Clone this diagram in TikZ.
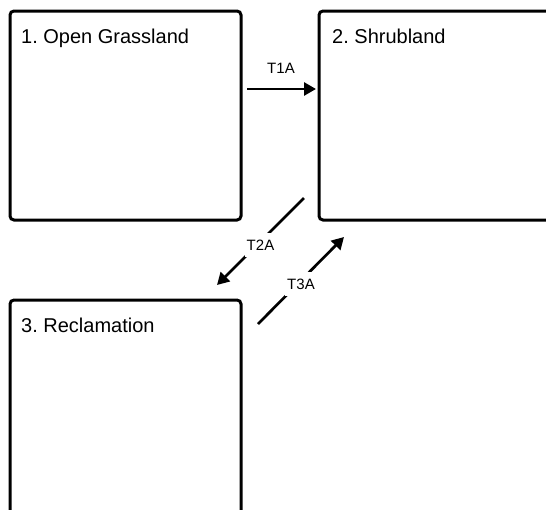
\documentclass[tikz,border=0pt]{standalone}
\usepackage{fontspec}
\setmainfont{Liberation Sans}
\usetikzlibrary{arrows.meta}
\frenchspacing
\begin{document}
\begin{tikzpicture}[x=1pt,y=-1pt,
  statebox/.style={draw=black, line width=3pt, rounded corners=4pt, inner sep=0pt, outer sep=0pt, anchor=north west},
  title/.style={anchor=base west, inner sep=0pt, font=\fontsize{20}{24}\selectfont},
  trans/.style={line width=2.7pt, -{Triangle[length=12pt,width=13pt]}},
  tlabel/.style={fill=white, inner xsep=2pt, inner ysep=7pt, yshift=-3.5pt, font=\fontsize{15}{18}\selectfont}]
\clip (0,0) rectangle (546,509);
\fill[white] (0,0) rectangle (546,509);
% state boxes
\node[statebox, minimum width=231pt, minimum height=209pt] (b1) at (10,11) {};
\node[statebox, minimum width=260pt, minimum height=209pt] (b2) at (319,11) {};
\node[statebox, minimum width=231pt, minimum height=240pt] (b3) at (10,300) {};
% titles
\node[title] (t1) at (21,43) {1. Open Grassland};
\node[title] (t2) at (332,43) {2. Shrubland};
\node[title] (t3) at (21,332) {3. Reclamation};
% transitions
\coordinate (a1s) at (247,89);
\coordinate (a1e) at (316,89);
\draw[trans] (a1s) -- (a1e);
\node[font=\fontsize{15}{18}\selectfont, inner sep=0pt, anchor=base] (l1) at (281,73) {T1A};
\coordinate (a2s) at (304,198);
\coordinate (a2e) at (217,285);
\draw[trans] (a2s) -- node[tlabel] (l2) {T2A} (a2e);
\coordinate (a3s) at (258,324);
\coordinate (a3e) at (344,237);
\draw[trans] (a3s) -- node[tlabel] (l3) {T3A} (a3e);
\end{tikzpicture}
\end{document}
